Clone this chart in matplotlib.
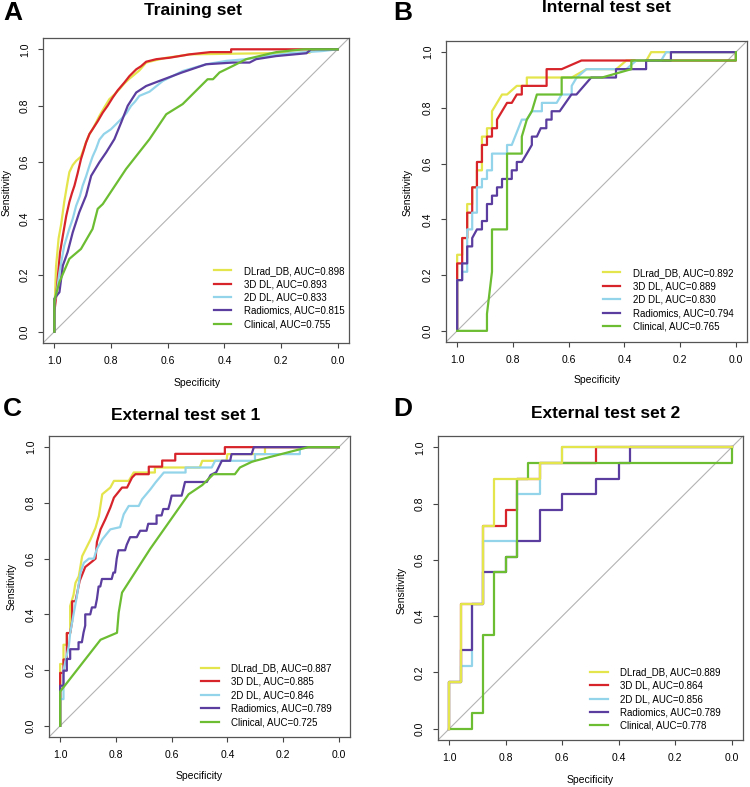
import matplotlib.pyplot as plt

plt.rcParams["font.family"] = ["Liberation Sans", "DejaVu Sans"]

W, H = 750, 787

MODELS = ["DLrad_DB", "3D DL", "2D DL", "Radiomics", "Clinical"]
COLORS = ["#E4E44C", "#D7242B", "#93D4EA", "#5A3D9E", "#6CBD32"]
TITLES = ["Training set", "Internal test set", "External test set 1", "External test set 2"]
LETTERS = ["A", "B", "C", "D"]
TICKS = [0.0, 0.2, 0.4, 0.6, 0.8, 1.0]

AUC_A = [0.898, 0.893, 0.833, 0.815, 0.755]
AUC_B = [0.892, 0.889, 0.830, 0.794, 0.765]
AUC_C = [0.887, 0.885, 0.846, 0.789, 0.725]
AUC_D = [0.889, 0.864, 0.856, 0.789, 0.778]

# ---- A: training set ----
A_DLRAD_SPEC = [1.0, 1.0, 0.994, 0.985, 0.976, 0.965, 0.955, 0.947, 0.935, 0.923, 0.906, 0.897, 0.888,
                0.876, 0.865, 0.853, 0.841, 0.823, 0.806, 0.788, 0.77, 0.752, 0.735, 0.718, 0.70, 0.676,
                0.64, 0.605, 0.56, 0.523, 0.40, 0.25, 0.099, 0.08, 0.0]
A_DLRAD_SENS = [0.0, 0.06, 0.23, 0.33, 0.38, 0.46, 0.52, 0.565, 0.59, 0.605, 0.62, 0.645, 0.671,
                0.70, 0.717, 0.74, 0.764, 0.795, 0.823, 0.84, 0.859, 0.88, 0.896, 0.91, 0.925, 0.953,
                0.962, 0.97, 0.976, 0.982, 0.984, 0.986, 0.988, 1.0, 1.0]
A_3D_SPEC = [1.0, 1.0, 0.994, 0.988, 0.98, 0.97, 0.958, 0.947, 0.938, 0.929, 0.918, 0.906, 0.897, 0.888,
             0.876, 0.865, 0.847, 0.829, 0.812, 0.794, 0.776, 0.753, 0.735, 0.711, 0.694, 0.676, 0.64,
             0.594, 0.523, 0.45, 0.376, 0.376, 0.0]
A_3D_SENS = [0.0, 0.07, 0.12, 0.19, 0.28, 0.34, 0.41, 0.459, 0.49, 0.517, 0.56, 0.611, 0.64, 0.67,
             0.70, 0.717, 0.745, 0.776, 0.80, 0.829, 0.855, 0.882, 0.905, 0.929, 0.94, 0.956, 0.965,
             0.97, 0.982, 0.99, 0.99, 1.0, 1.0]
A_2D_SPEC = [1.0, 1.0, 0.99, 0.982, 0.965, 0.947, 0.935, 0.923, 0.91, 0.9, 0.888, 0.876, 0.865, 0.853,
             0.841, 0.825, 0.8, 0.782, 0.764, 0.745, 0.729, 0.715, 0.70, 0.664, 0.617, 0.547, 0.464,
             0.393, 0.323, 0.252, 0.17, 0.052, 0.0]
A_2D_SENS = [0.0, 0.1, 0.15, 0.21, 0.305, 0.365, 0.40, 0.446, 0.48, 0.517, 0.55, 0.588, 0.62, 0.647,
             0.68, 0.70, 0.717, 0.735, 0.753, 0.775, 0.80, 0.815, 0.835, 0.85, 0.888, 0.923, 0.947,
             0.959, 0.965, 0.976, 0.986, 0.994, 1.0]
A_RAD_SPEC = [1.0, 1.0, 0.982, 0.97, 0.953, 0.935, 0.912, 0.888, 0.87, 0.841, 0.817, 0.788, 0.764,
              0.741, 0.711, 0.676, 0.629, 0.552, 0.464, 0.37, 0.311, 0.288, 0.217, 0.11, 0.094, 0.0]
A_RAD_SENS = [0.0, 0.117, 0.14, 0.234, 0.282, 0.352, 0.423, 0.482, 0.552, 0.60, 0.635, 0.682, 0.741,
              0.80, 0.847, 0.87, 0.888, 0.917, 0.947, 0.953, 0.953, 0.965, 0.976, 0.986, 1.0, 1.0]
A_CLIN_SPEC = [1.0, 1.0, 0.982, 0.947, 0.906, 0.865, 0.847, 0.829, 0.747, 0.664, 0.605, 0.547, 0.488,
               0.459, 0.44, 0.417, 0.37, 0.323, 0.217, 0.12, 0.0]
A_CLIN_SENS = [0.0, 0.11, 0.176, 0.258, 0.293, 0.364, 0.435, 0.452, 0.576, 0.682, 0.77, 0.806, 0.865,
               0.894, 0.894, 0.918, 0.941, 0.965, 0.99, 1.0, 1.0]

# ---- B: internal test set ----
B_DLRAD_SPEC = [1.0, 1.0, 0.982, 0.982, 0.964, 0.964, 0.946, 0.946, 0.929, 0.929, 0.911, 0.911, 0.893,
                0.893, 0.875, 0.875, 0.839, 0.821, 0.786, 0.750, 0.750, 0.589, 0.536, 0.429, 0.393,
                0.321, 0.304, 0.0]
B_DLRAD_SENS = [0.0, 0.273, 0.273, 0.333, 0.333, 0.455, 0.455, 0.515, 0.515, 0.576, 0.576, 0.697, 0.697,
                0.727, 0.727, 0.788, 0.848, 0.848, 0.879, 0.879, 0.909, 0.909, 0.939, 0.939, 0.970,
                0.970, 1.0, 1.0]
B_3D_SPEC = [1.0, 1.0, 0.982, 0.982, 0.964, 0.964, 0.946, 0.946, 0.929, 0.929, 0.911, 0.911, 0.893,
             0.893, 0.875, 0.875, 0.857, 0.857, 0.839, 0.821, 0.804, 0.786, 0.768, 0.768, 0.679, 0.679,
             0.625, 0.554, 0.0, 0.0]
B_3D_SENS = [0.0, 0.242, 0.242, 0.333, 0.333, 0.424, 0.424, 0.515, 0.515, 0.606, 0.606, 0.667, 0.667,
             0.697, 0.697, 0.727, 0.727, 0.758, 0.788, 0.818, 0.818, 0.848, 0.848, 0.879, 0.879, 0.939,
             0.939, 0.970, 0.970, 1.0]
B_2D_SPEC = [1.0, 1.0, 0.982, 0.982, 0.964, 0.964, 0.946, 0.946, 0.929, 0.929, 0.911, 0.911, 0.893,
             0.893, 0.875, 0.875, 0.821, 0.821, 0.804, 0.768, 0.75, 0.732, 0.696, 0.696, 0.643, 0.625,
             0.589, 0.589, 0.571, 0.536, 0.393, 0.357, 0.268, 0.25, 0.0]
B_2D_SENS = [0.0, 0.182, 0.182, 0.212, 0.212, 0.364, 0.364, 0.424, 0.424, 0.515, 0.515, 0.545, 0.545,
             0.576, 0.576, 0.636, 0.636, 0.667, 0.667, 0.758, 0.758, 0.788, 0.788, 0.818, 0.818, 0.848,
             0.848, 0.879, 0.909, 0.939, 0.939, 0.970, 0.970, 1.0, 1.0]
B_RAD_SPEC = [1.0, 1.0, 0.982, 0.982, 0.964, 0.964, 0.946, 0.946, 0.929, 0.911, 0.911, 0.893, 0.893,
              0.875, 0.875, 0.857, 0.857, 0.839, 0.839, 0.804, 0.804, 0.786, 0.786, 0.768, 0.75, 0.732,
              0.732, 0.714, 0.70, 0.68, 0.68, 0.661, 0.661, 0.632, 0.59, 0.572, 0.519, 0.43, 0.43,
              0.322, 0.322, 0.233, 0.233, 0.0]
B_RAD_SENS = [0.0, 0.182, 0.182, 0.242, 0.242, 0.303, 0.303, 0.333, 0.364, 0.364, 0.394, 0.394, 0.455,
              0.455, 0.485, 0.485, 0.515, 0.515, 0.545, 0.545, 0.576, 0.576, 0.606, 0.606, 0.636, 0.667,
              0.697, 0.697, 0.727, 0.727, 0.758, 0.758, 0.788, 0.788, 0.848, 0.848, 0.909, 0.909, 0.939,
              0.939, 0.970, 0.970, 1.0, 1.0]
B_CLIN_SPEC = [1.0, 0.893, 0.893, 0.875, 0.875, 0.821, 0.821, 0.768, 0.768, 0.750, 0.732, 0.714, 0.625,
               0.625, 0.48, 0.375, 0.375, 0.0, 0.0]
B_CLIN_SENS = [0.0, 0.0, 0.061, 0.212, 0.364, 0.364, 0.636, 0.636, 0.697, 0.758, 0.788, 0.848, 0.848,
               0.909, 0.909, 0.939, 0.970, 0.970, 1.0]

# ---- C: external test set 1 ----
C_DLRAD_SPEC = [1.0, 1.0, 0.988, 0.988, 0.976, 0.976, 0.964, 0.964, 0.952, 0.945, 0.933, 0.921, 0.909,
                0.891, 0.873, 0.861, 0.849, 0.82, 0.807, 0.754, 0.736, 0.66, 0.66, 0.499, 0.49, 0.403,
                0.40, 0.265, 0.265, 0.0]
C_DLRAD_SENS = [0.0, 0.222, 0.222, 0.291, 0.291, 0.333, 0.333, 0.43, 0.47, 0.513, 0.537, 0.609, 0.633,
                0.669, 0.711, 0.753, 0.831, 0.855, 0.879, 0.879, 0.909, 0.909, 0.927, 0.927, 0.951,
                0.951, 0.975, 0.975, 1.0, 1.0]
C_3D_SPEC = [1.0, 1.0, 0.988, 0.988, 0.976, 0.976, 0.964, 0.957, 0.957, 0.945, 0.93, 0.91, 0.885, 0.873,
             0.868, 0.855, 0.838, 0.82, 0.807, 0.778, 0.76, 0.742, 0.73, 0.682, 0.682, 0.634, 0.634,
             0.587, 0.587, 0.409, 0.409, 0.0]
C_3D_SENS = [0.0, 0.19, 0.19, 0.238, 0.238, 0.333, 0.333, 0.375, 0.447, 0.447, 0.52, 0.57, 0.59, 0.60,
             0.66, 0.705, 0.741, 0.783, 0.819, 0.855, 0.855, 0.891, 0.903, 0.903, 0.93, 0.93, 0.952,
             0.952, 0.976, 0.976, 1.0, 1.0]
C_2D_SPEC = [1.0, 1.0, 0.988, 0.988, 0.969, 0.964, 0.951, 0.94, 0.927, 0.915, 0.897, 0.879, 0.869,
             0.849, 0.82, 0.785, 0.772, 0.754, 0.718, 0.706, 0.676, 0.658, 0.628, 0.55, 0.55, 0.456,
             0.444, 0.301, 0.301, 0.14, 0.14, 0.0]
C_2D_SENS = [0.0, 0.096, 0.096, 0.2, 0.285, 0.333, 0.405, 0.465, 0.55, 0.585, 0.6, 0.6, 0.633, 0.669,
             0.705, 0.713, 0.759, 0.789, 0.789, 0.813, 0.849, 0.873, 0.909, 0.909, 0.927, 0.927, 0.951,
             0.951, 0.975, 0.975, 1.0, 1.0]
C_RAD_SPEC = [1.0, 1.0, 0.988, 0.988, 0.976, 0.976, 0.964, 0.964, 0.934, 0.934, 0.922, 0.916, 0.91, 0.91,
              0.892, 0.886, 0.874, 0.868, 0.862, 0.856, 0.85, 0.815, 0.809, 0.803, 0.797, 0.791, 0.767,
              0.761, 0.749, 0.725, 0.713, 0.69, 0.684, 0.654, 0.654, 0.636, 0.63, 0.612, 0.606, 0.60,
              0.564, 0.558, 0.552, 0.474, 0.46, 0.44, 0.42, 0.39, 0.385, 0.313, 0.305, 0.0]
C_RAD_SENS = [0.0, 0.144, 0.144, 0.198, 0.198, 0.24, 0.24, 0.275, 0.275, 0.3, 0.3, 0.335, 0.36, 0.4,
              0.4, 0.425, 0.425, 0.455, 0.5, 0.5, 0.527, 0.527, 0.55, 0.55, 0.6, 0.63, 0.63, 0.65, 0.677,
              0.677, 0.70, 0.70, 0.725, 0.725, 0.755, 0.755, 0.778, 0.778, 0.80, 0.826, 0.826, 0.85,
              0.875, 0.875, 0.90, 0.91, 0.951, 0.951, 0.975, 0.975, 1.0, 1.0]
C_CLIN_SPEC = [1.0, 1.0, 0.855, 0.796, 0.79, 0.778, 0.677, 0.539, 0.49, 0.45, 0.373, 0.355, 0.313, 0.30,
               0.11, 0.0]
C_CLIN_SENS = [0.0, 0.123, 0.309, 0.334, 0.406, 0.478, 0.635, 0.831, 0.864, 0.903, 0.903, 0.927, 0.947,
               0.951, 1.0, 1.0]

# ---- D: external test set 2 ----
D_DLRAD_SPEC = [1.0, 1.0, 0.96, 0.96, 0.88, 0.88, 0.84, 0.84, 0.68, 0.68, 0.60, 0.60, 0.0]
D_DLRAD_SENS = [0.0, 0.167, 0.167, 0.444, 0.444, 0.722, 0.722, 0.889, 0.889, 0.944, 0.944, 1.0, 1.0]
D_3D_SPEC = [1.0, 1.0, 0.96, 0.96, 0.88, 0.88, 0.80, 0.80, 0.76, 0.76, 0.68, 0.68, 0.48, 0.48, 0.0]
D_3D_SENS = [0.0, 0.167, 0.167, 0.444, 0.444, 0.722, 0.722, 0.778, 0.778, 0.889, 0.889, 0.944, 0.944,
             1.0, 1.0]
D_2D_SPEC = [1.0, 1.0, 0.96, 0.96, 0.92, 0.92, 0.88, 0.88, 0.76, 0.76, 0.68, 0.68, 0.60, 0.60, 0.0]
D_2D_SENS = [0.0, 0.167, 0.167, 0.222, 0.222, 0.444, 0.444, 0.667, 0.667, 0.833, 0.833, 0.944, 0.944,
             1.0, 1.0]
D_RAD_SPEC = [1.0, 1.0, 0.96, 0.96, 0.92, 0.92, 0.88, 0.88, 0.80, 0.80, 0.76, 0.76, 0.68, 0.68, 0.60,
              0.60, 0.48, 0.48, 0.40, 0.40, 0.36, 0.36, 0.0]
D_RAD_SENS = [0.0, 0.167, 0.167, 0.278, 0.278, 0.444, 0.444, 0.556, 0.556, 0.611, 0.611, 0.667, 0.667,
              0.778, 0.778, 0.833, 0.833, 0.889, 0.889, 0.944, 0.944, 1.0, 1.0]
D_CLIN_SPEC = [1.0, 0.92, 0.92, 0.88, 0.88, 0.84, 0.84, 0.80, 0.80, 0.76, 0.76, 0.72, 0.72, 0.0, 0.0]
D_CLIN_SENS = [0.0, 0.0, 0.056, 0.056, 0.333, 0.333, 0.556, 0.556, 0.611, 0.611, 0.889, 0.889, 0.944,
               0.944, 1.0]


def fx(x):
    return x / W


def fy(y):
    return 1 - y / H


panels = [
    dict(curves=[(A_DLRAD_SPEC, A_DLRAD_SENS), (A_3D_SPEC, A_3D_SENS), (A_2D_SPEC, A_2D_SENS),
                 (A_RAD_SPEC, A_RAD_SENS), (A_CLIN_SPEC, A_CLIN_SENS)],
         auc=AUC_A, box=(43, 38, 349, 343), order=[0, 1, 2, 3, 4],
         title_xy=(193, 11), letter_xy=(3, 13), xlab_xy=(197, 383), ylab_xy=(7, 192),
         leg_anchor=(0.985, 0.045)),
    dict(curves=[(B_DLRAD_SPEC, B_DLRAD_SENS), (B_3D_SPEC, B_3D_SENS), (B_2D_SPEC, B_2D_SENS),
                 (B_RAD_SPEC, B_RAD_SENS), (B_CLIN_SPEC, B_CLIN_SENS)],
         auc=AUC_B, box=(446, 41, 747, 342), order=[0, 1, 2, 3, 4],
         title_xy=(606, 8), letter_xy=(393, 13), xlab_xy=(597, 380), ylab_xy=(408, 192),
         leg_anchor=(0.955, 0.035)),
    dict(curves=[(C_DLRAD_SPEC, C_DLRAD_SENS), (C_3D_SPEC, C_3D_SENS), (C_2D_SPEC, C_2D_SENS),
                 (C_RAD_SPEC, C_RAD_SENS), (C_CLIN_SPEC, C_CLIN_SENS)],
         auc=AUC_C, box=(49, 436, 350, 737), order=[0, 1, 2, 3, 4],
         title_xy=(186, 416), letter_xy=(3, 409), xlab_xy=(199, 776), ylab_xy=(12, 586),
         leg_anchor=(0.94, 0.033)),
    dict(curves=[(D_DLRAD_SPEC, D_DLRAD_SENS), (D_3D_SPEC, D_3D_SENS), (D_2D_SPEC, D_2D_SENS),
                 (D_RAD_SPEC, D_RAD_SENS), (D_CLIN_SPEC, D_CLIN_SENS)],
         auc=AUC_D, box=(438, 436, 743, 740), order=[1, 2, 3, 4, 0],
         title_xy=(606, 414), letter_xy=(393, 409), xlab_xy=(590, 780), ylab_xy=(402, 590),
         leg_anchor=(0.928, 0.03)),
]

fig = plt.figure(figsize=(W / 100, H / 100), dpi=100)

for i, p in enumerate(panels):
    l, t, r, b = p["box"]
    ax = fig.add_axes([fx(l), fy(b), (r - l) / W, (b - t) / H])

    ax.axline((1, 0), (0, 1), color="#b3b3b3", lw=0.8, zorder=1)

    handles = [None] * 5
    for z, k in enumerate(p["order"]):
        spec, sens = p["curves"][k]
        (ln,) = ax.plot(spec, sens, color=COLORS[k], lw=1.6, zorder=2 + z,
                        label=f"{MODELS[k]}, AUC={p['auc'][k]:.3f}")
        handles[k] = ln

    ax.set_xlim(1.04, -0.04)
    ax.set_ylim(-0.04, 1.04)
    ax.set_xticks(TICKS)
    ax.set_yticks(TICKS)
    ax.set_xticklabels([f"{v:.1f}" for v in TICKS])
    ax.set_yticklabels([f"{v:.1f}" for v in TICKS], rotation=90, va="center")
    ax.tick_params(labelsize=7.5, length=3.5, width=0.8, pad=6, color="#444444")
    for s in ax.spines.values():
        s.set_color("#555555")
        s.set_linewidth(0.9)

    ax.legend(handles=handles, loc="lower right", bbox_to_anchor=p["leg_anchor"],
              frameon=False, fontsize=7, handlelength=1.8, handletextpad=1.3,
              labelspacing=0.35, borderpad=0, borderaxespad=0)

    tx, ty = p["title_xy"]
    fig.text(fx(tx), fy(ty), TITLES[i], ha="center", va="center", fontsize=12.5, fontweight="bold")
    lx, ly = p["letter_xy"]
    fig.text(fx(lx), fy(ly), LETTERS[i], ha="left", va="center", fontsize=19, fontweight="bold")
    sx, sy = p["xlab_xy"]
    fig.text(fx(sx), fy(sy), "Specificity", ha="center", va="center", fontsize=7.5)
    ex, ey = p["ylab_xy"]
    fig.text(fx(ex), fy(ey), "Sensitivity", ha="center", va="center", fontsize=7.5, rotation=90)

fig.savefig("out.png", dpi=100)
